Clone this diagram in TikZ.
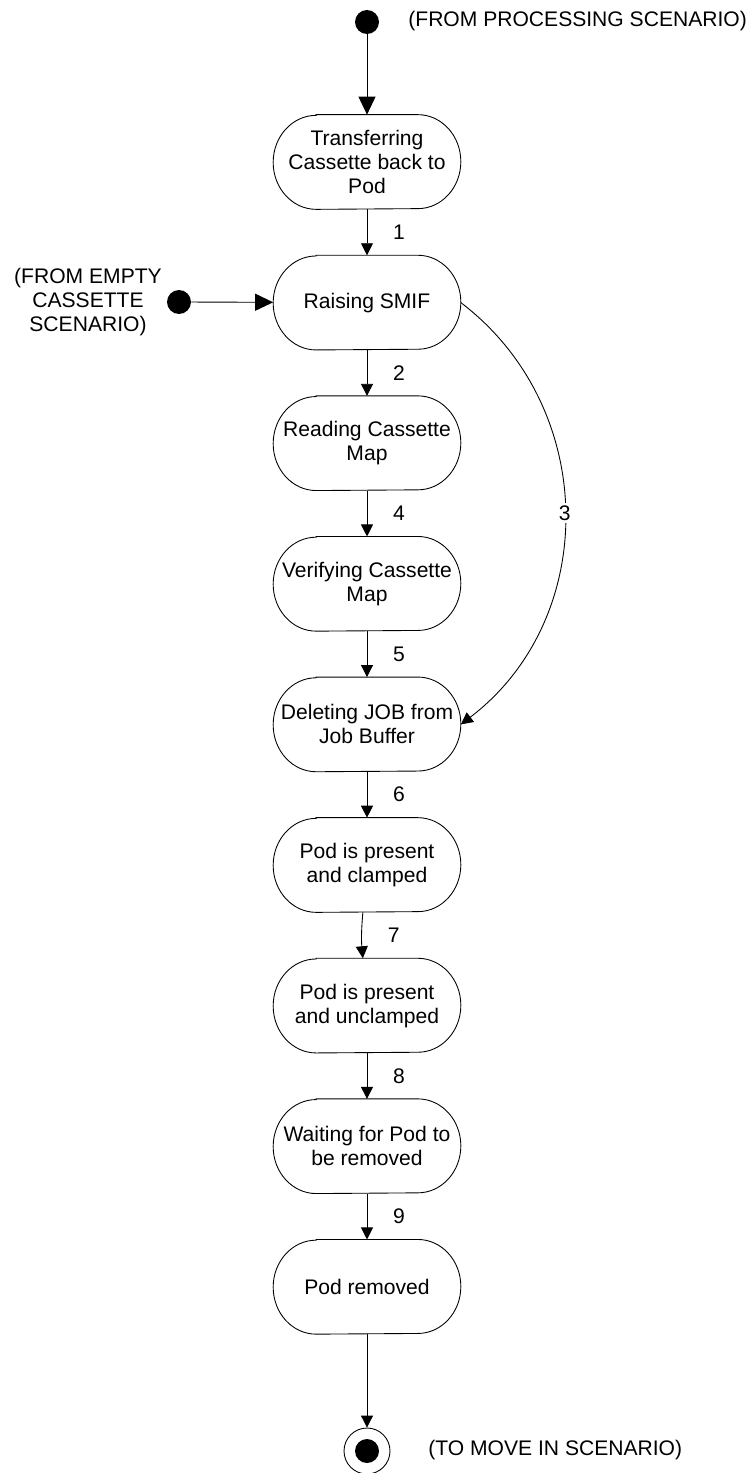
\documentclass[tikz,border=0pt]{standalone}
\usepackage{fontspec}
\setmainfont{Liberation Sans}
\usetikzlibrary{arrows.meta}
\newcommand\stshape[1]{%
  \draw[line width=0.5pt] ([xshift=0.86cm]#1.north west) -- ([xshift=-0.86cm]#1.north east)
    arc[start angle=90,end angle=-90,x radius=0.86cm,y radius=0.94cm]
    -- ([xshift=0.86cm]#1.south west)
    arc[start angle=270,end angle=90,x radius=0.86cm,y radius=0.94cm] -- cycle;}
\tikzset{
  st/.style={minimum width=3.74cm, minimum height=1.88cm, inner sep=0pt, align=center,
    font=\fontsize{12}{13.7}\selectfont},
  txt/.style={inner sep=0pt, align=center, font=\fontsize{12}{13.7}\selectfont},
  lbl/.style={midway, xshift=0.64cm, inner sep=0pt, font=\fontsize{12}{13.7}\selectfont},
  con/.style={line width=0.5pt, -{Triangle[length=0.24cm,width=0.24cm]}},
  bigcon/.style={line width=0.5pt, -{Triangle[length=0.36cm,width=0.34cm]}},
  dot/.style={circle, fill=black, minimum size=0.48cm, inner sep=0pt},
  ring/.style={circle, draw, line width=0.5pt, minimum size=0.92cm, inner sep=0pt}
}
\begin{document}
\begin{tikzpicture}[x=0.02cm,y=0.02cm]
\useasboundingbox (0,0) rectangle (752,-1473);

% start points
\node[dot] (s1) at (367,-22) {};
\node[txt, anchor=west] (t1) at (408,-21) {(FROM PROCESSING SCENARIO)};
\node[dot] (s2) at (179,-302) {};
\node[txt] (t2) at (88,-302) {(FROM EMPTY\\CASSETTE\\SCENARIO)};

% states
\node[st] (n1) at (367,-162) {Transferring\\Cassette back to\\Pod};
\node[st] (n2) at (367,-302.6) {Raising SMIF};
\node[st] (n3) at (367,-443.2) {Reading Cassette\\Map};
\node[st] (n4) at (367,-583.8) {Verifying Cassette\\Map};
\node[st] (n5) at (367,-724.4) {Deleting JOB from\\Job Buffer};
\node[st] (n6) at (367,-865) {Pod is present\\and clamped};
\node[st] (n7) at (367,-1005.6) {Pod is present\\and unclamped};
\node[st] (n8) at (367,-1146.2) {Waiting for Pod to\\be removed};
\node[st] (n9) at (367,-1286.8) {Pod removed};
\foreach \n in {n1,n2,n3,n4,n5,n6,n7,n8,n9} {\stshape{\n}}

% end point
\node[ring] (e) at (367,-1451) {};
\node[dot] (ed) at (367,-1451) {};
\node[txt, anchor=west] (t3) at (428,-1450) {(TO MOVE IN SCENARIO)};

% connectors
\draw[bigcon] (s1) -- (n1);
\draw[bigcon] (s2) -- (n2);
\draw[con] (n1) -- node[lbl]{1} (n2);
\draw[con] (n2) -- node[lbl]{2} (n3);
\draw[con] (n3) -- node[lbl]{4} (n4);
\draw[con] (n4) -- node[lbl]{5} (n5);
\draw[con] (n5) -- node[lbl]{6} (n6);
\draw[con] (n6) to[bend right=5] node[lbl]{7} (n7);
\draw[con] (n7) -- node[lbl]{8} (n8);
\draw[con] (n8) -- node[lbl]{9} (n9);
\draw[con] (n9) -- (e);
\draw[con] (n2.east) .. controls +(138,-105) and +(139,106) .. node[pos=0.5, fill=white, inner sep=1.5pt, font=\fontsize{12}{13.7}\selectfont]{3} (n5.east);
\end{tikzpicture}
\end{document}
